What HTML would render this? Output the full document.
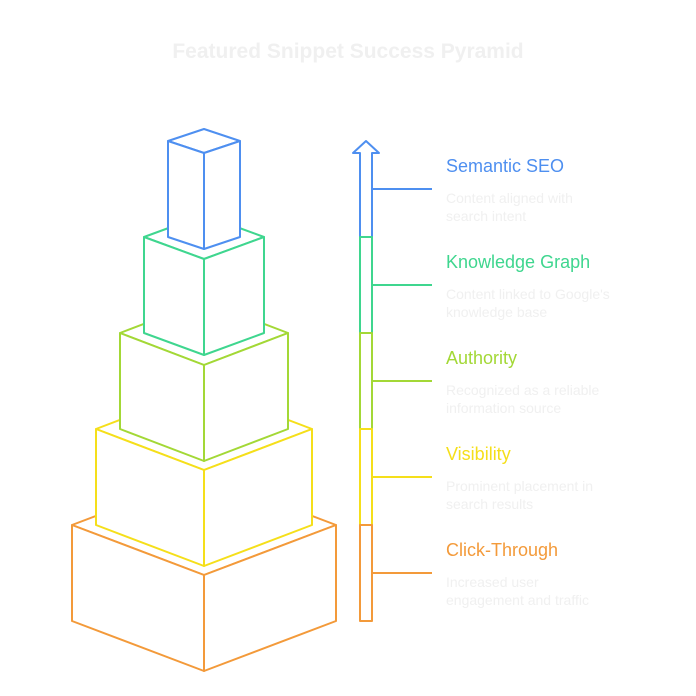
<!DOCTYPE html>
<html><head><meta charset="utf-8"><style>
html,body{margin:0;padding:0;background:#fff;}
svg{display:block}
text{font-family:"Liberation Sans",sans-serif}
</style></head><body>
<svg width="696" height="696" viewBox="0 0 696 696" xmlns="http://www.w3.org/2000/svg">
<text x="348" y="58" text-anchor="middle" font-size="21" font-weight="bold" fill="#f0f0f0">Featured Snippet Success Pyramid</text>
<g stroke-width="2" fill="#fff" stroke-linejoin="round">
<!-- orange -->
<g stroke="#f39a3a">
<path d="M72 525 L204 475 L336 525 L204 575 Z"/>
<path d="M72 525 L204 575 L204 671 L72 621 Z"/>
<path d="M336 525 L204 575 L204 671 L336 621 Z"/>
</g>
<g stroke="#f5df1a">
<path d="M96 429 L204 388 L312 429 L204 470 Z"/>
<path d="M96 429 L204 470 L204 566 L96 525 Z"/>
<path d="M312 429 L204 470 L204 566 L312 525 Z"/>
</g>
<g stroke="#a3d836">
<path d="M120 333 L204 301 L288 333 L204 365 Z"/>
<path d="M120 333 L204 365 L204 461 L120 429 Z"/>
<path d="M288 333 L204 365 L204 461 L288 429 Z"/>
</g>
<g stroke="#3fd68f">
<path d="M144 237 L204 215 L264 237 L204 259 Z"/>
<path d="M144 237 L204 259 L204 355 L144 333 Z"/>
<path d="M264 237 L204 259 L204 355 L264 333 Z"/>
</g>
<g stroke="#4e8ff0">
<path d="M168 141 L204 129 L240 141 L204 153 Z"/>
<path d="M168 141 L204 153 L204 249 L168 237 Z"/>
<path d="M240 141 L204 153 L204 249 L240 237 Z"/>
</g>
<!-- arrow -->
<path stroke="#4e8ff0" d="M360 237 L360 153 L353 153 L366 141 L379 153 L372 153 L372 237"/>
<rect x="360" y="237" width="12" height="96" stroke="#3fd68f"/>
<rect x="360" y="333" width="12" height="96" stroke="#a3d836"/>
<rect x="360" y="429" width="12" height="96" stroke="#f5df1a"/>
<rect x="360" y="525" width="12" height="96" stroke="#f39a3a"/>
<line x1="372" y1="189" x2="432" y2="189" stroke="#4e8ff0"/>
<line x1="372" y1="285" x2="432" y2="285" stroke="#3fd68f"/>
<line x1="372" y1="381" x2="432" y2="381" stroke="#a3d836"/>
<line x1="372" y1="477" x2="432" y2="477" stroke="#f5df1a"/>
<line x1="372" y1="573" x2="432" y2="573" stroke="#f39a3a"/>
</g>
<g font-size="18">
<text x="446" y="172" fill="#4e8ff0">Semantic SEO</text>
<text x="446" y="268" fill="#3fd68f">Knowledge Graph</text>
<text x="446" y="364" fill="#a3d836">Authority</text>
<text x="446" y="460" fill="#f5df1a">Visibility</text>
<text x="446" y="556" fill="#f39a3a">Click-Through</text>
</g>
<g font-size="14" fill="#f0f0f0">
<text x="446" y="203">Content aligned with</text>
<text x="446" y="221">search intent</text>
<text x="446" y="299">Content linked to Google's</text>
<text x="446" y="317">knowledge base</text>
<text x="446" y="395">Recognized as a reliable</text>
<text x="446" y="413">information source</text>
<text x="446" y="491">Prominent placement in</text>
<text x="446" y="509">search results</text>
<text x="446" y="587">Increased user</text>
<text x="446" y="605">engagement and traffic</text>
</g>
</svg>
</body></html>
